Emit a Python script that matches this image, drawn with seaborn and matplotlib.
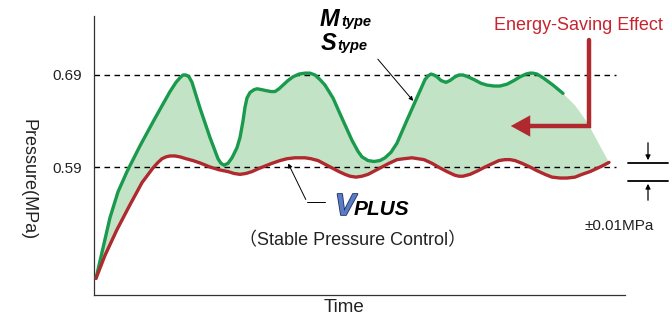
import numpy as np
import pandas as pd
import seaborn as sns
import matplotlib.pyplot as plt
import matplotlib.transforms as mtransforms
import matplotlib.patheffects as pe

# --- data (time in arbitrary units, pressure in MPa) ---
m_time = [2, 9, 16, 24, 33, 46, 61, 76, 82, 86, 89, 92, 95, 98, 102, 106, 116, 124,
          127, 130, 134, 138, 143, 146, 149, 151, 153, 156, 160, 163, 168, 172, 177,
          181, 185, 189, 194, 199, 205, 211, 216, 221, 226, 231, 239, 248, 258, 264,
          268, 274, 280, 286, 291, 297, 303, 313, 322, 331, 334, 337, 340, 343, 347,
          352, 356, 361, 365, 369, 374, 380, 387, 393, 400, 406, 413, 420, 426, 432,
          436, 439, 443, 449, 459, 469]
m_pressure = [0.469, 0.502, 0.535, 0.563, 0.585, 0.613, 0.643, 0.672, 0.682, 0.687,
              0.690, 0.690, 0.688, 0.682, 0.668, 0.654, 0.622, 0.599, 0.594, 0.592,
              0.594, 0.600, 0.611, 0.622, 0.640, 0.655, 0.665, 0.671, 0.674, 0.675,
              0.674, 0.673, 0.672, 0.672, 0.675, 0.679, 0.684, 0.688, 0.691, 0.692,
              0.692, 0.690, 0.685, 0.679, 0.665, 0.643, 0.619, 0.607, 0.601, 0.597,
              0.596, 0.597, 0.600, 0.606, 0.616, 0.641, 0.663, 0.685, 0.689, 0.691,
              0.690, 0.688, 0.684, 0.682, 0.684, 0.688, 0.690, 0.690, 0.688, 0.685,
              0.681, 0.679, 0.678, 0.678, 0.680, 0.684, 0.688, 0.691, 0.692, 0.692,
              0.691, 0.687, 0.679, 0.670]
# where the M/S type curve would have gone (shaded area only)
m_tail_time = [481, 493, 504, 515]
m_tail_pressure = [0.657, 0.639, 0.617, 0.595]

v_time = [2, 11, 23, 36, 48, 59, 64, 68, 72, 76, 81, 86, 92, 99, 107, 116, 125, 134,
          140, 146, 152, 158, 164, 171, 178, 186, 193, 201, 206, 211, 217, 224, 231,
          238, 245, 251, 256, 262, 268, 274, 281, 288, 295, 303, 310, 318, 324, 330,
          338, 346, 353, 361, 365, 369, 376, 384, 391, 399, 405, 411, 416, 421, 428,
          436, 443, 451, 458, 466, 473, 481, 488, 496, 502, 508, 515]
v_pressure = [0.469, 0.494, 0.522, 0.549, 0.573, 0.589, 0.595, 0.599, 0.601, 0.602,
              0.602, 0.601, 0.599, 0.597, 0.594, 0.590, 0.587, 0.585, 0.583, 0.582,
              0.583, 0.585, 0.588, 0.591, 0.594, 0.597, 0.599, 0.600, 0.600, 0.600,
              0.599, 0.597, 0.593, 0.589, 0.585, 0.582, 0.580, 0.579, 0.580, 0.582,
              0.586, 0.590, 0.594, 0.598, 0.599, 0.600, 0.599, 0.598, 0.594, 0.589,
              0.585, 0.581, 0.580, 0.580, 0.582, 0.586, 0.590, 0.594, 0.597, 0.598,
              0.598, 0.597, 0.594, 0.590, 0.586, 0.582, 0.579, 0.578, 0.578, 0.579,
              0.582, 0.585, 0.588, 0.591, 0.595]

ref_levels = [0.59, 0.69]
ref_labels = ["0.59", "0.69"]

GREEN = "#1a9a4c"
RED = "#b0292f"
FILL = "#c3e3c6"
TEXT_RED = "#c8242f"

sns.set_style("white")
plt.rcParams["font.family"] = ["Liberation Sans", "Noto Sans CJK JP", "DejaVu Sans"]

W, H = 672, 317
fig = plt.figure(figsize=(W / 100, H / 100), dpi=100)
ax = fig.add_axes([94 / W, 1 - 295 / H, 531 / W, 279 / H])
# pixel transform (origin top-left) for the annotations
px = mtransforms.Affine2D().scale(1 / W, -1 / H).translate(0, 1) + fig.transFigure

# shaded energy saving area
poly_t = m_time + m_tail_time + v_time[::-1]
poly_p = m_pressure + m_tail_pressure + v_pressure[::-1]
ax.fill(poly_t, poly_p, color=FILL, lw=0, zorder=1)

df_m = pd.DataFrame({"time": m_time, "pressure": m_pressure})
df_v = pd.DataFrame({"time": v_time, "pressure": v_pressure})
sns.lineplot(data=df_m, x="time", y="pressure", sort=False, color=GREEN, lw=2.4,
             ax=ax, zorder=3, solid_joinstyle="round", solid_capstyle="round")
sns.lineplot(data=df_v, x="time", y="pressure", sort=False, color=RED, lw=2.4,
             ax=ax, zorder=3, solid_joinstyle="round", solid_capstyle="round")

for lvl in ref_levels:
    ax.axhline(lvl, xmin=0, xmax=522 / 531, color="black", lw=1.0,
               ls=(0, (4, 3.2)), zorder=2)

ax.set_xlim(0, 531)
ax.set_ylim(0.4509, 0.7541)
ax.set_xticks([])
ax.set_yticks(ref_levels)
ax.set_yticklabels(ref_labels, fontsize=11, color="#222222")
ax.tick_params(axis="y", length=0, pad=8.5)
ax.set_xlabel("")
ax.set_ylabel("")
for side in ["top", "right"]:
    ax.spines[side].set_visible(False)
for side in ["left", "bottom"]:
    ax.spines[side].set_color("#333333")
    ax.spines[side].set_linewidth(0.9)

# axis titles
fig.text(28, 180, "Pressure(MPa)", transform=px, rotation=-90, fontsize=13,
         ha="center", va="center", color="#222222")
fig.text(344, 312, "Time", transform=px, fontsize=13.5, ha="center",
         va="baseline", color="#222222")

# M type / S type label
bi = dict(fontweight="bold", fontstyle="italic", color="black", va="baseline",
          transform=px)
fig.text(320, 26, "M", fontsize=17, ha="left", **bi)
fig.text(341, 26, "type", fontsize=10.5, ha="left", **bi)
fig.text(321, 50, "S", fontsize=17, ha="left", **bi)
fig.text(337, 50, "type", fontsize=10.5, ha="left", **bi)
fig.add_artist(plt.matplotlib.patches.FancyArrowPatch(
    (376, 57), (415, 103), transform=px, arrowstyle="-|>", mutation_scale=6,
    lw=0.7, color="black", zorder=5))

# VPLUS label
fig.text(335, 215, "V", fontsize=22, ha="left", fontweight="bold",
         fontstyle="italic", color="#5a7cc2", va="baseline", transform=px,
         path_effects=[pe.withStroke(linewidth=1.2, foreground="#1e2f68")])
fig.text(354, 215, "PLUS", fontsize=15, ha="left", **bi)
fig.add_artist(plt.matplotlib.lines.Line2D([325, 307], [202, 202], transform=px,
                                           lw=0.7, color="black"))
fig.add_artist(plt.matplotlib.patches.FancyArrowPatch(
    (307, 202), (287, 161), transform=px, arrowstyle="-|>", mutation_scale=6,
    lw=0.7, color="black", zorder=5))
fig.text(353, 245, "（Stable Pressure Control）", transform=px, fontsize=13,
         ha="center", va="baseline", color="#222222")

# energy saving arrow
fig.text(663, 30, "Energy-Saving Effect", transform=px, fontsize=13,
         ha="right", va="baseline", color=TEXT_RED)
fig.add_artist(plt.matplotlib.lines.Line2D([589, 589, 526], [40, 126, 126],
                                           transform=px, lw=3.2, color=RED,
                                           solid_joinstyle="miter"))
fig.add_artist(plt.matplotlib.patches.FancyArrowPatch(
    (530, 126), (508, 126), transform=px, arrowstyle="-|>,head_length=1.0,head_width=0.55",
    mutation_scale=14, lw=0, color=RED, zorder=5))

# +/-0.01 MPa band marker
for yy in [163, 181]:
    fig.add_artist(plt.matplotlib.lines.Line2D([628, 668], [yy, yy], transform=px,
                                               lw=1.3, color="black"))
fig.add_artist(plt.matplotlib.patches.FancyArrowPatch(
    (648, 140), (648, 163), transform=px, arrowstyle="-|>", mutation_scale=7,
    lw=0.9, color="black"))
fig.add_artist(plt.matplotlib.patches.FancyArrowPatch(
    (648, 203), (648, 181), transform=px, arrowstyle="-|>", mutation_scale=7,
    lw=0.9, color="black"))
fig.text(619, 230, "±0.01MPa", transform=px, fontsize=11, ha="center",
         va="baseline", color="#222222")

fig.savefig("out.png", dpi=100)
